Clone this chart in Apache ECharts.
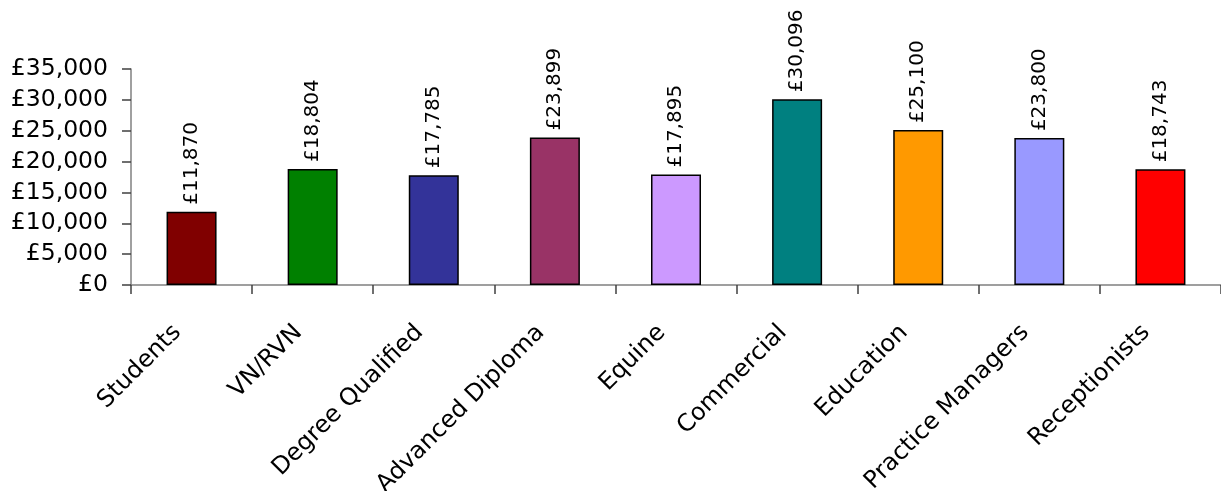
<!DOCTYPE html>
<html>
<head>
<meta charset="utf-8">
<script src="https://cdn.jsdelivr.net/npm/echarts@6/dist/echarts.min.js"></script>
<style>html,body{margin:0;padding:0;background:#fff;}#c{width:1221px;height:491px;}</style>
</head>
<body>
<div id="c"></div>
<script>
const categories = ['Students', 'VN/RVN', 'Degree Qualified', 'Advanced Diploma', 'Equine', 'Commercial', 'Education', 'Practice Managers', 'Receptionists'];
const salaries = [11870, 18804, 17785, 23899, 17895, 30096, 25100, 23800, 18743];
const barColors = ['#800000', '#008000', '#333399', '#993366', '#CC99FF', '#008080', '#FF9900', '#9999FF', '#FF0000'];
const yTicks = { min: 0, max: 35000, interval: 5000 };

const fmt = v => '£' + Number(v).toLocaleString('en-GB');
const FONT = 'DejaVu Sans';

const chart = echarts.init(document.getElementById('c'), null, { renderer: 'canvas' });
chart.setOption({
  animation: false,
  backgroundColor: '#fff',
  grid: { left: 131, right: 0, top: 69, bottom: 206, containLabel: false, outerBoundsMode: 'none' },
  xAxis: {
    type: 'category',
    data: categories,
    axisLine: { lineStyle: { color: '#808080', width: 1.5 } },
    axisTick: { show: true, length: 9, lineStyle: { color: '#404040', width: 1.5 } },
    axisLabel: { rotate: 45, interval: 0, margin: 58, verticalAlign: 'bottom', lineHeight: 40, color: '#000', fontFamily: FONT, fontSize: 24 }
  },
  yAxis: {
    type: 'value',
    min: yTicks.min, max: yTicks.max, interval: yTicks.interval,
    axisLine: { show: true, lineStyle: { color: '#808080', width: 1.5 } },
    axisTick: { show: true, length: 9, lineStyle: { color: '#404040', width: 1.5 } },
    splitLine: { show: false },
    axisLabel: { formatter: fmt, margin: 23, color: '#000', fontFamily: FONT, fontSize: 23.5 }
  },
  series: [{
    type: 'bar',
    data: salaries.map((v, i) => ({ value: v, itemStyle: { color: barColors[i] } })),
    barWidth: 50,
    itemStyle: { borderColor: '#000', borderWidth: 1.5 },
    label: {
      show: true, position: 'top', rotate: 90, align: 'left', verticalAlign: 'middle',
      distance: 7, formatter: p => fmt(p.value), color: '#000', fontFamily: FONT, fontSize: 20
    }
  }]
});
</script>
</body>
</html>
